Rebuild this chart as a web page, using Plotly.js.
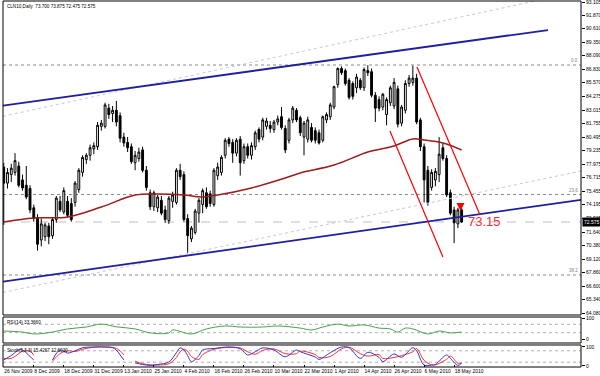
<!DOCTYPE html>
<html><head><meta charset="utf-8">
<script src="https://cdn.plot.ly/plotly-3.0.1.min.js"></script>
<style>html,body{margin:0;padding:0;background:#fff}#chart{width:600px;height:376px}</style>
</head><body><div id="chart"></div>
<script>
const dates = [
"26 Nov 2009","27 Nov 2009","30 Nov 2009",
"1 Dec 2009","2 Dec 2009","3 Dec 2009","4 Dec 2009","7 Dec 2009","8 Dec 2009","9 Dec 2009","10 Dec 2009","11 Dec 2009",
"14 Dec 2009","15 Dec 2009","16 Dec 2009","17 Dec 2009","18 Dec 2009","21 Dec 2009","22 Dec 2009","23 Dec 2009","24 Dec 2009",
"28 Dec 2009","29 Dec 2009","30 Dec 2009","31 Dec 2009",
"4 Jan 2010","5 Jan 2010","6 Jan 2010","7 Jan 2010","8 Jan 2010","11 Jan 2010","12 Jan 2010","13 Jan 2010","14 Jan 2010","15 Jan 2010",
"18 Jan 2010","19 Jan 2010","20 Jan 2010","21 Jan 2010","22 Jan 2010","25 Jan 2010","26 Jan 2010","27 Jan 2010","28 Jan 2010","29 Jan 2010",
"1 Feb 2010","2 Feb 2010","3 Feb 2010","4 Feb 2010","5 Feb 2010","8 Feb 2010","9 Feb 2010","10 Feb 2010","11 Feb 2010","12 Feb 2010",
"15 Feb 2010","16 Feb 2010","17 Feb 2010","18 Feb 2010","19 Feb 2010","22 Feb 2010","23 Feb 2010","24 Feb 2010","25 Feb 2010","26 Feb 2010",
"1 Mar 2010","2 Mar 2010","3 Mar 2010","4 Mar 2010","5 Mar 2010","8 Mar 2010","9 Mar 2010","10 Mar 2010","11 Mar 2010","12 Mar 2010",
"15 Mar 2010","16 Mar 2010","17 Mar 2010","18 Mar 2010","19 Mar 2010","22 Mar 2010","23 Mar 2010","24 Mar 2010","25 Mar 2010","26 Mar 2010",
"29 Mar 2010","30 Mar 2010","31 Mar 2010",
"1 Apr 2010","5 Apr 2010","6 Apr 2010","7 Apr 2010","8 Apr 2010","9 Apr 2010","12 Apr 2010","13 Apr 2010","14 Apr 2010","15 Apr 2010",
"16 Apr 2010","19 Apr 2010","20 Apr 2010","21 Apr 2010","22 Apr 2010","23 Apr 2010","26 Apr 2010","27 Apr 2010","28 Apr 2010","29 Apr 2010","30 Apr 2010",
"3 May 2010","4 May 2010","5 May 2010","6 May 2010","7 May 2010","10 May 2010","11 May 2010","12 May 2010","13 May 2010","14 May 2010",
"17 May 2010","18 May 2010","19 May 2010","20 May 2010"
];
const openP  = [77.7,76.2,77.0,77.2,77.8,76.5,76.0,75.7,73.9,73.0,70.9,71.2,72.2,71.3,72.8,74.5,73.5,74.5,74.3,74.4,75.6,77.2,78.4,78.8,79.4,
79.6,81.5,81.5,83.2,82.7,83.0,82.5,80.5,80.0,79.6,78.1,78.5,79.3,77.4,75.3,74.0,73.9,74.6,73.7,72.7,
74.5,74.4,77.4,77.0,72.9,71.0,71.6,73.4,74.2,75.3,75.2,74.2,76.9,77.2,78.8,80.3,80.0,79.0,80.3,78.3,
79.6,78.8,79.6,81.2,80.5,81.5,81.6,81.2,81.9,82.4,81.3,80.2,82.1,83.0,82.3,80.5,80.3,81.4,81.1,80.9,80.2,82.1,82.4,
83.3,85.4,86.9,86.7,85.8,85.5,85.1,85.8,85.1,86.7,86.6,84.4,84.0,83.3,82.6,83.7,83.4,85.0,81.8,83.0,85.5,
85.6,86.0,82.1,79.6,77.4,75.8,76.5,77.0,79.5,78.5,75.3,73.7,72.4,73.7];
const highP  = [78.1,77.6,78.0,79.0,78.2,77.0,77.8,76.0,74.2,73.3,72.9,72.5,72.5,73.0,75.0,75.0,75.8,75.0,74.8,76.4,77.6,78.8,79.0,79.8,80.0,
81.9,82.1,83.7,83.6,83.4,83.87,82.8,80.9,80.5,79.9,79.2,79.5,79.6,77.8,75.6,75.5,75.1,75.0,74.1,75.0,
75.4,77.6,78.0,77.3,73.3,72.2,73.8,74.8,75.7,75.8,75.5,77.6,78.1,78.8,80.4,80.5,80.3,80.4,80.6,79.9,
79.9,80.0,81.1,81.4,82.3,82.3,82.0,82.1,82.5,83.3,81.6,82.3,83.4,83.2,82.5,82.0,82.4,81.8,81.4,81.2,82.5,82.8,83.7,
85.3,87.0,87.1,86.9,86.0,85.7,86.4,86.0,87.0,87.2,86.9,84.7,84.3,84.6,84.2,85.3,86.0,85.3,83.5,85.8,86.3,
87.15,86.4,82.3,79.9,77.8,77.5,77.6,80.5,79.9,78.8,75.6,74.0,73.9,73.875];
const lowP   = [72.3,75.7,76.3,76.9,75.8,75.5,74.7,73.4,72.6,69.9,70.3,70.8,70.5,71.0,72.5,73.5,73.3,73.0,72.6,74.0,75.3,76.8,78.0,78.3,78.9,
79.3,81.1,81.3,82.2,81.9,81.5,80.0,79.6,79.1,78.0,77.4,78.2,77.2,75.5,73.7,73.6,73.5,73.2,72.5,72.4,
73.9,74.2,76.5,72.6,69.7,70.7,71.4,72.5,73.4,73.8,74.0,74.0,76.5,76.9,78.5,79.6,78.1,78.7,76.9,78.0,
78.5,78.4,79.3,80.0,80.2,81.2,80.9,80.9,81.6,81.2,79.0,79.9,81.8,81.9,80.6,78.8,80.0,80.0,79.9,79.8,80.0,81.8,82.1,
83.1,85.1,86.3,85.3,84.0,84.0,84.6,84.9,84.8,86.2,84.2,81.9,82.9,83.0,81.6,83.4,83.1,81.4,81.5,82.7,85.2,
85.3,81.7,79.2,74.4,74.1,75.5,75.9,76.3,78.3,74.9,73.2,70.6,72.0,72.475];
const closeP = [76.2,77.2,77.6,78.3,76.0,75.75,74.9,73.7,72.9,70.5,72.4,72.3,71.2,72.8,74.8,73.7,75.5,73.2,72.8,76.2,77.4,78.6,78.8,79.5,79.7,
81.6,81.8,83.5,82.6,83.0,81.9,80.4,79.95,79.5,78.2,78.8,79.1,77.4,75.8,74.0,75.3,74.9,73.4,72.8,74.8,
75.1,77.4,76.8,72.8,71.3,72.0,73.6,74.6,75.5,74.0,74.3,77.4,77.7,78.6,80.2,79.9,79.0,80.2,78.1,79.6,
78.8,79.7,80.9,80.3,82.1,82.0,81.3,81.9,82.2,81.4,79.3,82.1,83.2,82.1,80.9,81.8,82.1,80.2,80.2,79.95,82.4,82.6,83.5,
85.2,86.9,86.5,85.5,84.2,84.3,86.1,85.1,86.8,86.5,84.4,83.2,83.2,84.5,84.0,85.1,85.6,81.7,83.3,85.5,86.0,
86.0,81.9,79.6,76.5,74.4,77.2,77.3,78.9,78.5,75.1,73.4,72.5,73.7,72.575];

const maBars = [0,8,17,26,35,41,48,53,57,66,75,79,88,97,104,109,112,117,122];
const maVals = [72.57,72.94,73.04,73.97,75.09,75.19,75.09,74.91,75.09,75.75,76.68,77.15,77.89,79.1,79.67,80.32,80.23,79.95,79.29];

const rsiBars = [0,5,8,13,17,22,26,30,35,39,44,45,50,54,59,63,69,73,79,82,85,89,92,96,100,103,105,107,109,113,116,119,122];
const rsiVals = [38,33,24,33,48,57,71,58,48,29,29,43,24,48,62,57,57,62,52,43,57,71,62,67,52,48,33,52,48,24,38,29,33.37];
const rsiLevels = [70,30];

const stochBars = [0,2,4,5,7,8,9,13,15,17,19,21,24,27,29,30,31,32,33,35,37,39,41,44,46,47,48,49,50,52,53,56,60,63,65,67,69,72,75,78,79,83,84,87,90,92,95,97,100,101,104,106,109,110,112,114,115,118,119,121,122];
const stochK = [32,55,84,84,50,32,null,32,84,68,80,96,100,100,96,84,58,32,null,16,8,3,8,21,70,95,84,55,23,55,84,92,100,90,58,75,95,84,49,84,75,47,35,70,100,96,40,72,45,23,63,46,96,80,5,5,8,58,40,3,15.43];
const stochD = [40,40,65,78,80,55,null,25,65,80,76,88,99,100,98,93,80,58,null,25,12,6,5,12,45,75,88,78,50,35,60,88,98,95,75,62,82,90,65,65,78,60,45,50,90,99,65,52,60,40,45,55,75,92,30,6,6,35,52,15,12.6];
const stochLevels = [80,20];

const tickDates = ["26 Nov 2009","8 Dec 2009","18 Dec 2009","31 Dec 2009","13 Jan 2010","25 Jan 2010","4 Feb 2010","16 Feb 2010","26 Feb 2010","10 Mar 2010","22 Mar 2010","1 Apr 2010","14 Apr 2010","26 Apr 2010","6 May 2010","18 May 2010"];
const priceTicks = [93.105,91.870,90.610,89.350,88.090,86.830,85.570,84.275,83.015,81.755,80.495,79.235,77.975,76.715,75.455,74.195,72.935,71.640,70.380,69.120,67.860,66.600,65.340,64.080];

const chanUpperBars = [-0.2,145.0], chanUpperPrice = [83.44,90.49];
const chanLowerBars = [-0.2,153.8], chanLowerPrice = [67.01,74.64];
const faintUpperBars = [-0.2,153.8], faintUpperPrice = [82.44,94.13];
const faintLowerBars = [-0.2,153.8], faintLowerPrice = [66.0,77.33];
const redUpperBars = [110.1,126.9], redUpperPrice = [87.04,73.23];
const redLowerBars = [102.9,117.0], redLowerPrice = [81.07,69.31];

const fibPrices = [87.225,75.14,67.63];
const fibNames = ["0.0","23.6","38.2"];
const bidPrice = [72.575];
const signalBar = [121.7], signalPrice = [73.6];
const signalLabelBar = [123.2], signalLabelPrice = [72.62], signalLabelText = ["73.15"];

const titleText = "CLN10,Daily  73.700 73.875 72.475 72.575";
const rsiText = "RSI(14) 33.3660";
const stochText = "Stoch(5,3,3) 15.4267 12.6030";

const barX = dates.map((d, i) => i);
const tickVals = tickDates.map(d => dates.indexOf(d));

const FONT = 'Liberation Sans, Arial, sans-serif';
const dMain = [0.14208, 1], dRsi = [0.06557, 0.13661], dSto = [0, 0.06011];

const lineTrace = (x, y, color, width, dash, yaxis) => ({type:'scatter', mode:'lines', x, y, xaxis:'x', yaxis: yaxis || 'y',
  line:{color, width, dash: dash || 'solid'}, hoverinfo:'skip'});

const traces = [
  lineTrace(faintUpperBars, faintUpperPrice, '#c4c4ee', 1, 'dot'),
  lineTrace(faintLowerBars, faintLowerPrice, '#c4c4ee', 1, 'dot'),
  {type:'candlestick', x:barX, open:openP, high:highP, low:lowP, close:closeP, xaxis:'x', yaxis:'y',
   increasing:{line:{color:'#000', width:1}, fillcolor:'#fff'},
   decreasing:{line:{color:'#000', width:1}, fillcolor:'#000'},
   whiskerwidth:0, hoverinfo:'skip'},
  {type:'scatter', mode:'lines', x:maBars, y:maVals, xaxis:'x', yaxis:'y', line:{color:'#9b1c1c', width:1.5, shape:'spline'}, hoverinfo:'skip'},
  lineTrace(chanUpperBars, chanUpperPrice, '#1e1ea0', 1.8),
  lineTrace(chanLowerBars, chanLowerPrice, '#1e1ea0', 1.8),
  lineTrace(redUpperBars, redUpperPrice, '#ff0000', 1.2),
  lineTrace(redLowerBars, redLowerPrice, '#ff0000', 1.2),
  {type:'scatter', mode:'markers', x:signalBar, y:signalPrice, xaxis:'x', yaxis:'y',
   marker:{symbol:'arrow-down', size:8, color:'#ff0000'}, hoverinfo:'skip'},
  {type:'scatter', mode:'lines', x:rsiBars, y:rsiVals, xaxis:'x', yaxis:'y2', line:{color:'#4ca04c', width:1, shape:'spline'}, hoverinfo:'skip'},
  {type:'scatter', mode:'lines', x:stochBars, y:stochD, xaxis:'x', yaxis:'y3', connectgaps:false, line:{color:'#ff3030', width:1, shape:'spline'}, hoverinfo:'skip'},
  {type:'scatter', mode:'lines', x:stochBars, y:stochK, xaxis:'x', yaxis:'y3', connectgaps:false, line:{color:'#3535d0', width:1, shape:'spline'}, hoverinfo:'skip'}
];

const shapes = [];
[dMain, dRsi, dSto].forEach(d => shapes.push({type:'rect', xref:'paper', yref:'paper', x0:0, x1:1, y0:d[0], y1:d[1], line:{color:'#000', width:1}, layer:'above'}));
fibPrices.forEach(p => shapes.push({type:'line', xref:'paper', yref:'y', x0:0, x1:1, y0:p, y1:p, line:{color:'#8a8a8a', width:1, dash:'dot'}, layer:'below'}));
bidPrice.forEach(p => shapes.push({type:'line', xref:'paper', yref:'y', x0:0, x1:1, y0:p, y1:p, line:{color:'#c0c0c0', width:1, dash:'dash'}, layer:'below'}));
rsiLevels.forEach(v => shapes.push({type:'line', xref:'paper', yref:'y2', x0:0, x1:1, y0:v, y1:v, line:{color:'#b0b0b0', width:1, dash:'dot'}, layer:'below'}));
stochLevels.forEach(v => shapes.push({type:'line', xref:'paper', yref:'y3', x0:0, x1:1, y0:v, y1:v, line:{color:'#b0b0b0', width:1, dash:'dot'}, layer:'below'}));

const annotations = [
  {xref:'paper', yref:'paper', x:0, y:1, xanchor:'left', yanchor:'top', xshift:2, yshift:-1, text:titleText, showarrow:false, font:{size:4.6, color:'#000', family:FONT}},
  {xref:'paper', yref:'paper', x:0, y:dRsi[1], xanchor:'left', yanchor:'top', xshift:2, yshift:-1, text:rsiText, showarrow:false, font:{size:4.6, color:'#000', family:FONT}},
  {xref:'paper', yref:'paper', x:0, y:dSto[1], xanchor:'left', yanchor:'top', xshift:2, yshift:-1, text:stochText, showarrow:false, font:{size:4.6, color:'#000', family:FONT}},
  {xref:'paper', yref:'y', x:1, y:bidPrice[0], xanchor:'left', yanchor:'middle', xshift:1, text:bidPrice[0].toFixed(3), showarrow:false, bgcolor:'#000', borderpad:1, font:{size:5, color:'#fff', family:FONT}},
  {xref:'x', yref:'y', x:signalLabelBar[0], y:signalLabelPrice[0], xanchor:'left', yanchor:'middle', text:signalLabelText[0], showarrow:false, font:{size:13, color:'#ff2a2a', family:FONT}}
];
fibPrices.forEach((p, k) => annotations.push({xref:'paper', yref:'y', x:1, y:p, xanchor:'right', yanchor:'bottom', xshift:-1, yshift:0, text:fibNames[k], showarrow:false, font:{size:4.5, color:'#808080', family:FONT}}));

const yCommon = {side:'right', anchor:'x', showgrid:false, zeroline:false, showline:false, ticks:'outside', ticklen:3, tickcolor:'#000', tickfont:{size:5, color:'#000', family:FONT}, ticklabeloverflow:'allow', fixedrange:true};

const layout = {
  width:600, height:376,
  margin:{l:3, r:19, t:1, b:9},
  paper_bgcolor:'#fff', plot_bgcolor:'#fff',
  showlegend:false,
  font:{family:FONT, size:5, color:'#000'},
  xaxis:{domain:[0,1], range:[-0.2,153.8], anchor:'y3', showgrid:false, zeroline:false, showline:false,
    ticks:'inside', ticklen:2, tickcolor:'#000', tickvals:tickVals, ticktext:tickDates, tickangle:0,
    ticklabelposition:'outside right', tickfont:{size:5, color:'#000', family:FONT}, rangeslider:{visible:false}, fixedrange:true},
  yaxis:Object.assign({}, yCommon, {domain:dMain, range:[63.894,93.198], tickvals:priceTicks, tickformat:'.3f'}),
  yaxis2:Object.assign({}, yCommon, {domain:dRsi, range:[-19.05,104.76], tickvals:[100,0], ticktext:['100','0']}),
  yaxis3:Object.assign({}, yCommon, {domain:dSto, range:[-5.3,110.5], tickvals:[100,0], ticktext:['100','0']}),
  shapes, annotations
};

Plotly.newPlot('chart', traces, layout, {staticPlot:true, displayModeBar:false});
</script></body></html>
